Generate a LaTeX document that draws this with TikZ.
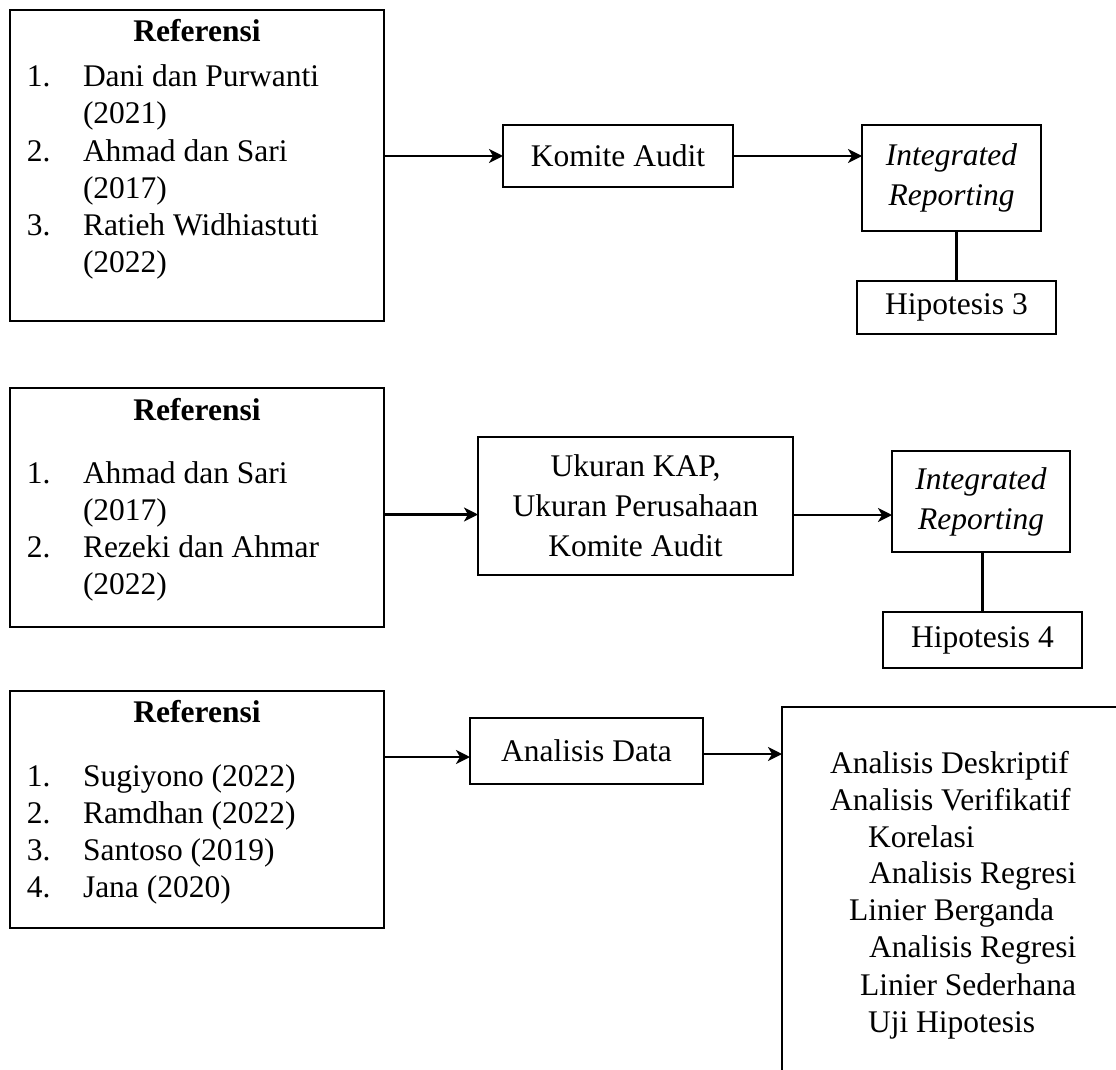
\documentclass[tikz,border=0pt]{standalone}
\usepackage{fontspec}
\setmainfont{Liberation Serif}
\usetikzlibrary{arrows.meta}
\begin{document}
\begin{tikzpicture}[x=1pt,y=-1pt,line width=2.4pt,
  box/.style={draw,line width=2.4pt,inner sep=0pt,outer sep=0pt,rectangle,anchor=north west,
    font=\fontsize{31.5}{40}\selectfont,align=center},
  t/.style={inner sep=0pt,outer sep=0pt,font=\fontsize{31.5}{37}\selectfont,anchor=base west},
  tc/.style={t,anchor=base},
  arr/.style={-{Stealth[length=14pt,width=14pt,inset=4pt]},line width=2.4pt}]
\useasboundingbox (0,0) rectangle (1116,1070);

% ---------- row 1 ----------
\node[box,minimum width=374pt,minimum height=311pt] (ref1) at (10,10) {};
\node[tc] (r1t) at (197,42) {\textbf{Referensi}};
\node[t] (r1n1) at (27,87) {1.};
\node[t] (r1a) at (83,87) {Dani dan Purwanti};
\node[t] (r1b) at (83,124) {(2021)};
\node[t] (r1n2) at (27,161) {2.};
\node[t] (r1c) at (83,161) {Ahmad dan Sari};
\node[t] (r1d) at (83,198) {(2017)};
\node[t] (r1n3) at (27,235) {3.};
\node[t] (r1e) at (83,235) {Ratieh Widhiastuti};
\node[t] (r1f) at (83,272) {(2022)};

\node[box,minimum width=230pt,minimum height=62pt] (ka) at (503,125) {Komite Audit};
\node[box,minimum width=179pt,minimum height=106pt] (ir1) at (862,125) {\textit{Integrated}\\\textit{Reporting}};
\node[box,minimum width=199pt,minimum height=53pt] (h3) at (857,281) {Hipotesis 3};

\draw[arr] (ka.west -| ref1.east) -- (ka.west);
\draw[arr] (ka.east) -- (ka.east -| ir1.west);
\draw (h3.north |- ir1.south) -- (h3.north);

% ---------- row 2 ----------
\node[box,minimum width=374pt,minimum height=239pt] (ref2) at (10,388) {};
\node[tc] (r2t) at (197,420) {\textbf{Referensi}};
\node[t] (r2n1) at (27,483) {1.};
\node[t] (r2a) at (83,483) {Ahmad dan Sari};
\node[t] (r2b) at (83,520) {(2017)};
\node[t] (r2n2) at (27,557) {2.};
\node[t] (r2c) at (83,557) {Rezeki dan Ahmar};
\node[t] (r2d) at (83,594) {(2022)};

\node[box,minimum width=315pt,minimum height=138pt] (uk) at (478,437) {Ukuran KAP,\\Ukuran Perusahaan\\Komite Audit};
\node[box,minimum width=178pt,minimum height=101pt] (ir2) at (892,451) {\textit{Integrated}\\\textit{Reporting}};
\node[box,minimum width=199pt,minimum height=56pt] (h4) at (883,612) {Hipotesis 4};

\coordinate (a21) at ([yshift=-7pt]ref2.east);
\coordinate (a22) at ([yshift=-9pt]uk.east);
\draw[arr] (a21) -- (a21 -| uk.west);
\draw[arr] (a22) -- (a22 -| ir2.west);
\draw (h4.north |- ir2.south) -- (h4.north);

% ---------- row 3 ----------
\node[box,minimum width=374pt,minimum height=237pt] (ref3) at (10,691) {};
\node[tc] (r3t) at (197,722) {\textbf{Referensi}};
\node[t] (r3n1) at (27,786) {1.};
\node[t] (r3a) at (83,786) {Sugiyono (2022)};
\node[t] (r3n2) at (27,823) {2.};
\node[t] (r3b) at (83,823) {Ramdhan (2022)};
\node[t] (r3n3) at (27,860) {3.};
\node[t] (r3c) at (83,860) {Santoso (2019)};
\node[t] (r3n4) at (27,897) {4.};
\node[t] (r3d) at (83,897) {Jana (2020)};

\node[box,minimum width=233pt,minimum height=66pt] (ad) at (470,718) {Analisis Data};
\node[box,minimum width=400pt,minimum height=450pt] (big) at (782,707) {};

\node[t] (b1) at (830,773) {Analisis Deskriptif};
\node[t] (b2) at (830,810) {Analisis Verifikatif};
\node[t] (b3) at (868,847) {Korelasi};
\node[t] (b4) at (869,883) {Analisis Regresi};
\node[t] (b5) at (849,920) {Linier Berganda};
\node[t] (b6) at (869,957) {Analisis Regresi};
\node[t] (b7) at (860,995) {Linier Sederhana};
\node[t] (b8) at (868,1032) {Uji Hipotesis};

\coordinate (a31) at ([yshift=-6pt]ad.west);
\coordinate (a32) at ([yshift=-3pt]ad.east);
\draw[arr] (a31 -| ref3.east) -- (a31);
\draw[arr] (a32) -- (a32 -| big.west);
\end{tikzpicture}
\end{document}
